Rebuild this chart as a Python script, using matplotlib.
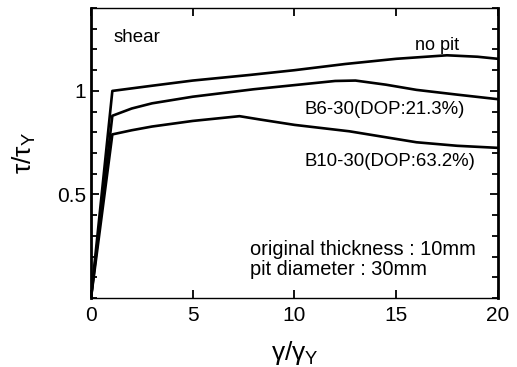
import numpy as np
import matplotlib
matplotlib.use('Agg')
import matplotlib.pyplot as plt
from matplotlib.ticker import MultipleLocator

plt.rcParams['font.family'] = ['Liberation Sans', 'DejaVu Sans']
plt.rcParams['mathtext.fontset'] = 'custom'
plt.rcParams['mathtext.rm'] = 'Liberation Sans'
plt.rcParams['mathtext.it'] = 'Liberation Sans'

# strain ratio / stress ratio
nopit_x = [0, 1.05, 3, 5, 7.8, 10, 12.5, 15, 17.5, 19, 20]
nopit_y = [0, 1.0, 1.025, 1.05, 1.077, 1.10, 1.13, 1.155, 1.172, 1.165, 1.155]

b6_x = [0, 1.05, 2, 3, 5, 8, 10, 12, 13, 14.5, 16, 18, 20]
b6_y = [0, 0.88, 0.915, 0.94, 0.972, 1.008, 1.028, 1.048, 1.05, 1.03, 1.005, 0.982, 0.96]

b10_x = [0, 1.05, 2, 3, 5, 6.5, 7.3, 8.3, 10, 12.7, 16, 18, 20]
b10_y = [0, 0.79, 0.81, 0.828, 0.855, 0.87, 0.878, 0.862, 0.836, 0.805, 0.752, 0.735, 0.725]

fig = plt.figure(figsize=(5.17, 3.67), dpi=100)
ax = fig.add_axes([0.176, 0.188, 0.787, 0.79])

for xs, ys in [(nopit_x, nopit_y), (b6_x, b6_y), (b10_x, b10_y)]:
    ax.plot(xs, ys, color='black', lw=1.9, solid_joinstyle='round')

ax.set_xlim(0, 20)
ax.set_ylim(0, 1.4)
ax.set_xticks([0, 5, 10, 15, 20])
ax.set_yticks([0.5, 1])
ax.set_yticklabels(['0.5', '1'])
ax.yaxis.set_minor_locator(MultipleLocator(0.1))
ax.tick_params(which='both', direction='in', top=True, right=True, labelsize=15)
ax.tick_params(which='major', length=6, width=1.3)
ax.tick_params(which='minor', length=4, width=1.3)
ax.tick_params(axis='x', pad=6)

ax.spines['left'].set_linewidth(2.0)
ax.spines['right'].set_linewidth(2.0)
ax.spines['top'].set_linewidth(1.0)
ax.spines['bottom'].set_linewidth(1.0)

ax.set_xlabel(r'$\gamma/\gamma_{\rm Y}$', fontsize=19, labelpad=10)
ax.set_ylabel(r'$\tau/\tau_{\rm Y}$', fontsize=19, labelpad=14)

ax.text(1.1, 1.26, 'shear', fontsize=13.5, va='center')
ax.text(18.1, 1.22, 'no pit', fontsize=13, ha='right', va='center')
ax.text(10.5, 0.91, 'B6-30(DOP:21.3%)', fontsize=13.4, ha='left', va='center')
ax.text(10.5, 0.66, 'B10-30(DOP:63.2%)', fontsize=13.4, ha='left', va='center')
ax.text(7.8, 0.235, 'original thickness : 10mm', fontsize=14.4, va='center')
ax.text(7.8, 0.14, 'pit diameter : 30mm', fontsize=14.4, va='center')

fig.savefig('out.png', dpi=100)
